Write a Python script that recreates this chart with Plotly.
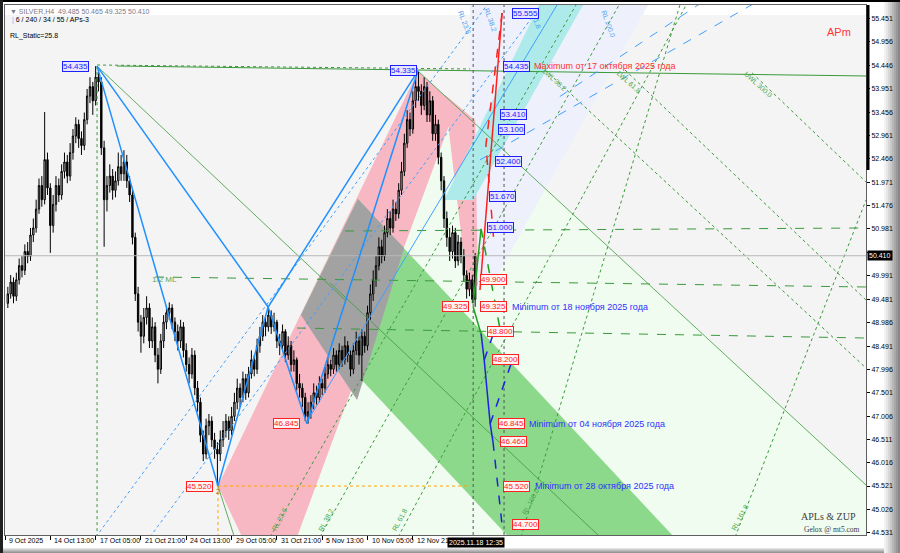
import plotly.graph_objects as go

# ---------------- candle data (bar index, OHLC) ----------------
bars = list(range(1, 167))
opens = [49.40,49.60,49.85,49.55,49.90,50.20,50.10,50.50,50.40,50.85,51.00,51.40,51.90,51.60,52.45,51.85,51.05,51.50,51.90,51.70,
         52.20,52.40,52.10,52.60,52.95,53.20,52.90,52.75,53.30,53.80,54.00,53.70,54.20,54.10,52.70,51.60,51.90,52.10,51.80,52.00,
         52.30,52.15,52.40,52.00,51.70,50.80,49.60,49.00,48.70,49.10,49.30,48.60,48.90,48.30,48.00,48.60,49.00,49.20,49.30,49.00,
         48.80,48.60,48.90,48.40,48.10,47.90,48.30,47.60,47.30,46.60,46.20,46.80,46.90,46.50,46.30,46.20,46.50,46.70,46.90,46.70,
         47.00,47.30,47.60,47.40,47.80,47.50,47.90,48.20,48.00,48.50,48.70,49.00,48.90,49.15,48.90,49.00,48.60,48.50,48.80,48.30,
         48.50,48.10,48.20,47.70,47.60,47.40,47.00,47.10,47.30,47.50,47.40,47.70,47.60,47.90,48.10,48.00,48.30,48.10,48.40,48.20,
         48.50,48.30,48.00,48.40,48.60,48.30,48.70,48.50,49.20,49.60,49.90,50.20,50.60,50.40,50.90,51.20,51.00,51.40,51.30,51.80,
         52.20,52.80,53.30,53.10,53.70,54.00,53.90,53.60,54.00,53.40,53.70,53.00,53.20,52.50,52.00,51.20,50.80,50.50,50.90,50.30,
         50.70,50.40,50.00,49.70,49.90,49.485]
closes = [49.60,49.85,49.55,49.90,50.20,50.10,50.50,50.40,50.85,51.00,51.40,51.90,51.60,52.45,51.85,51.05,51.50,51.90,51.70,52.20,
          52.40,52.10,52.60,52.95,53.20,52.90,52.75,53.30,53.80,54.00,53.70,54.20,54.10,52.70,51.60,51.90,52.10,51.80,52.00,52.30,
          52.15,52.40,52.00,51.70,50.80,49.60,49.00,48.70,49.10,49.30,48.60,48.90,48.30,48.00,48.60,49.00,49.20,49.30,49.00,48.80,
          48.60,48.90,48.40,48.10,47.90,48.30,47.60,47.30,46.60,46.20,46.80,46.90,46.50,46.30,46.20,46.50,46.70,46.90,46.70,47.00,
          47.30,47.60,47.40,47.80,47.50,47.90,48.20,48.00,48.50,48.70,49.00,48.90,49.15,48.90,49.00,48.60,48.50,48.80,48.30,48.50,
          48.10,48.20,47.70,47.60,47.40,47.00,47.10,47.30,47.50,47.40,47.70,47.60,47.90,48.10,48.00,48.30,48.10,48.40,48.20,48.50,
          48.30,48.00,48.40,48.60,48.30,48.70,48.50,49.20,49.60,49.90,50.20,50.60,50.40,50.90,51.20,51.00,51.40,51.30,51.80,52.20,
          52.80,53.30,53.10,53.70,54.00,53.90,53.60,54.00,53.40,53.70,53.00,53.20,52.50,52.00,51.20,50.80,50.50,50.90,50.30,50.70,
          50.40,50.00,49.70,49.90,49.485,50.410]
highs = [49.75,50.00,49.95,50.05,50.35,50.40,50.65,50.70,51.00,51.20,51.60,52.05,52.10,53.46,52.60,51.95,51.70,52.10,52.05,52.35,
         52.60,52.55,52.80,53.10,53.35,53.30,53.05,53.45,53.95,54.20,54.10,54.435,54.35,54.20,52.85,52.10,52.35,52.25,52.20,52.60,
         52.55,52.65,52.55,52.10,51.80,50.90,49.75,49.15,49.30,49.55,49.40,49.10,49.00,48.45,48.75,49.15,49.35,49.42,49.38,49.10,
         48.95,49.05,49.00,48.55,48.25,48.45,48.40,47.75,47.40,46.70,46.95,47.05,47.00,46.65,46.45,46.70,46.90,47.05,47.00,47.20,
         47.50,47.80,47.70,47.95,47.90,48.05,48.40,48.30,48.65,48.90,49.15,49.10,49.32,49.25,49.20,49.05,48.75,48.95,48.85,48.70,
         48.60,48.40,48.25,47.90,47.70,47.50,47.30,47.45,47.70,47.65,47.85,47.80,48.05,48.25,48.20,48.45,48.40,48.55,48.50,48.70,
         48.60,48.40,48.55,48.80,48.70,48.85,48.80,49.35,49.80,50.10,50.40,50.80,50.75,51.05,51.40,51.35,51.60,51.55,51.95,52.40,
         53.00,53.50,53.45,53.90,54.20,54.335,54.05,54.20,54.10,53.90,53.80,53.40,53.30,52.60,52.10,51.35,51.00,51.05,51.00,50.85,
         50.80,50.55,50.10,50.05,50.00,50.465]
lows = [49.30,49.50,49.40,49.45,49.80,49.95,50.00,50.25,50.30,50.70,50.90,51.30,51.45,51.50,51.70,50.47,50.90,51.35,51.55,51.60,
        52.05,51.95,52.00,52.45,52.80,52.70,52.55,52.65,53.20,53.65,53.40,53.60,53.90,52.55,50.60,51.35,51.75,51.60,51.65,51.90,
        52.00,52.00,51.85,51.55,50.65,49.45,48.80,48.35,48.55,48.95,48.45,48.45,48.15,47.70,47.90,48.45,48.85,49.05,48.85,48.60,
        48.40,48.45,48.25,47.95,47.70,47.80,47.45,47.10,46.45,46.05,46.10,46.60,46.35,46.10,45.52,46.05,46.35,46.55,46.50,46.60,
        46.90,47.15,47.20,47.30,47.35,47.40,47.80,47.85,47.90,48.35,48.60,48.70,48.80,48.75,48.80,48.45,48.30,48.40,48.15,48.20,
        47.95,47.95,47.55,47.40,47.20,46.90,46.845,46.95,47.15,47.25,47.30,47.45,47.50,47.80,47.85,47.90,47.95,48.00,48.05,48.10,
        48.15,47.85,47.90,48.30,48.10,47.75,48.35,48.40,49.05,49.45,49.75,50.10,50.25,50.30,50.80,50.85,50.90,51.15,51.20,51.70,
        52.10,52.70,52.95,53.00,53.55,53.70,53.40,53.50,53.25,53.25,52.85,52.85,52.35,51.80,51.00,50.60,50.30,50.35,50.15,50.20,
        50.25,49.85,49.50,49.55,49.40,49.325]

# ---------------- axes ----------------
time_tick_bars = [0, 16, 32, 48, 64, 80, 96, 112, 128, 144]
time_tick_text = ["9 Oct 2025", "14 Oct 13:00", "17 Oct 05:00", "21 Oct 21:00", "24 Oct 13:00",
                  "29 Oct 05:00", "31 Oct 21:00", "5 Nov 13:00", "10 Nov 05:00", "12 Nov 21"]
price_ticks = [55.451, 54.956, 54.446, 53.951, 53.456, 52.961, 52.466, 51.971, 51.476, 50.981, 50.486,
               49.991, 49.481, 48.986, 48.491, 47.996, 47.501, 47.006, 46.511, 46.016, 45.521, 45.026, 44.531]
price_tick_text = ["55.451", "54.956", "54.446", "53.951", "53.456", "52.961", "52.466", "51.971", "51.476",
                   "50.981", "", "49.991", "49.481", "48.986", "48.491", "47.996", "47.501", "47.006", "46.511",
                   "46.016", "45.521", "45.026", "44.531"]
x_range = [0, 304]
y_range = [44.481, 55.733]
last_price = 50.410
cursor_time = "2025.11.18 12:35"
cursor_bar = 156.1

# ---------------- overlay objects (bar, price anchors) ----------------
pale_green_bars = [103.1, 159.3, 304.0, 304.0]
pale_green_prices = [44.44, 53.589, 45.542, 44.44]

lavender_bars = [164.2, 164.2, 227.1, 172.3]
lavender_prices = [49.68, 55.733, 55.733, 49.831]

pink_bars = [75.2, 83.7, 103.1, 159.3, 145.8]
pink_prices = [45.52, 44.44, 44.44, 53.589, 54.332]
pink_strip_bars = [155.4, 166.0, 167.0, 163.5, 157.1]
pink_strip_prices = [53.823, 53.292, 49.79, 49.64, 52.867]

green_band_bars = [104.5, 124.6, 236.2, 177.8]
green_band_prices = [49.152, 51.614, 44.44, 44.44]
gray_bars = [104.5, 124.6, 140.9, 124.3]
gray_prices = [49.152, 51.614, 50.574, 47.347]

cyan_bars = [155.0, 165.3, 204.1, 188.6]
cyan_prices = [51.593, 51.593, 55.733, 55.733]

zz_bars = [32.5, 75.2, 92.9, 106.6, 145.8]
zz_prices = [54.435, 45.52, 49.321, 46.845, 54.335]
zz_segments = [(0, 1), (0, 2), (1, 2), (2, 3), (3, 4), (2, 4)]

green_lines = [  # (bars, prices, dash, width)
    ([39.5, 304.0], [54.438, 54.226], "solid", 1),
    ([32.5, 164.2], [54.459, 54.375], "dot", 1),
    ([32.5, 32.5], [54.435, 44.40], "dot", 1),
    ([32.5, 120.1], [54.435, 49.47], "solid", 0.8),
    ([145.8, 304.0], [54.332, 45.542], "solid", 0.8),
    ([114.8, 210.1], [49.831, 44.44], "solid", 0.8),
    ([75.2, 81.2], [45.52, 44.40], "solid", 0.8),
    ([52.97, 304.0], [49.959, 49.746], "dash", 1),
    ([120.1, 304.0], [50.935, 50.999], "dash", 1),
    ([103.1, 304.0], [48.875, 48.663], "dash", 1),
    ([190.7, 304.0], [54.353, 48.026], "dot", 1),
    ([218.9, 304.0], [54.353, 49.470], "dot", 1),
    ([263.8, 304.0], [54.290, 51.976], "dot", 1),
    ([93.6, 201.6], [44.44, 55.733], "dot", 1),
    ([111.2, 216.8], [44.44, 55.733], "dot", 1),
    ([138.8, 240.5], [44.44, 55.733], "dot", 1),
    ([182.2, 238.3], [44.44, 55.733], "dot", 1),
    ([257.8, 304.0], [44.44, 51.593], "dot", 1),
]
green_tags = [("RL 23.6", 97.0, 44.80, -62), ("RL 38.2", 113.5, 44.80, -62), ("RL 61.8", 139.5, 44.80, -62),
              ("RL 100.0", 185.5, 45.20, -62), ("RL 161.8", 259.5, 44.85, -62),
              ("LWL 38.2", 194.0, 54.15, 42), ("LWL 61.8", 220.0, 54.10, 42), ("UWL 300.0", 266.0, 54.05, 42)]
blue_tags = [("RL 23.6", 162.4, 55.372), ("RL 38.2", 171.3, 55.415), ("61.8", 187.9, 55.372), ("RL 100.0", 212.9, 55.33)]
blue_lines = [
    ([106.6, 194.9], [46.879, 55.733], "solid", 1),
    ([32.1, 170.2], [44.44, 55.733], "dot", 1),
    ([51.2, 189.3], [44.44, 55.733], "dot", 1),
    ([167.7, 268.4], [52.445, 55.90], "dash", 1),
    ([195.9, 248.9], [53.790, 55.90], "dash", 1),
]
red_solid_bars = [167.7, 175.5]
red_solid_prices = [49.682, 55.563]
red_dash_bars = [175.5, 169.8, 172.7]
red_dash_prices = [55.563, 52.761, 50.638]
green_short = [([165.3, 168.1], [49.40, 50.98], "solid"), ([168.1, 174.8], [50.98, 48.85], "dash"),
               ([165.3, 168.1], [49.32, 48.75], "solid")]
blue_short = [([168.1, 169.2, 171.3, 172.3], [48.75, 48.196, 46.845, 46.46], "solid"),
              ([172.3, 175.5], [46.46, 44.70], "dash"),
              ([171.3, 179.4], [46.845, 48.24], "dash"),
              ([169.2, 172.7], [48.196, 48.80], "dash")]

blue_boxes = [("54.435", 20.1, 54.435), ("54.335", 135.9, 54.335), ("55.555", 179.0, 55.555),
              ("54.435", 175.8, 54.435), ("53.410", 174.8, 53.410), ("53.100", 174.1, 53.100),
              ("52.400", 173.0, 52.400), ("51.670", 170.9, 51.670), ("51.000", 170.2, 51.000)]
red_boxes = [("49.900", 167.7, 49.900), ("49.325", 167.7, 49.325), ("49.325", 154.3, 49.325),
             ("48.800", 170.2, 48.800), ("48.200", 172.0, 48.200), ("46.845", 174.1, 46.845),
             ("46.845", 94.6, 46.845), ("46.460", 174.8, 46.460), ("45.520", 175.8, 45.520),
             ("45.520", 63.9, 45.520), ("44.700", 179.0, 44.700)]
notes = [("Maximum от 17 октября 2025 года", 186.1, 54.435, "#ff3030"),
         ("Minimum от 18 ноября 2025 года", 178.3, 49.325, "#3030ff"),
         ("Minimum от 04 ноября 2025 года", 184.3, 46.845, "#3030ff"),
         ("Minimum от 28 октября 2025 года", 186.4, 45.520, "#3030ff")]

FONT = "Liberation Sans, Arial, sans-serif"
fig = go.Figure()
shapes = []

def poly(xs, ys, color):
    path = "M " + " L ".join("%s,%s" % (x, y) for x, y in zip(xs, ys)) + " Z"
    shapes.append(dict(type="path", xref="x", yref="y", path=path, fillcolor=color,
                       line=dict(width=0), layer="below"))

def line(xs, ys, color, width=1, dash="solid"):
    fig.add_trace(go.Scatter(x=xs, y=ys, mode="lines", line=dict(color=color, width=width, dash=dash),
                             hoverinfo="skip", showlegend=False))

def px_x(X):
    return (X - 5) / 861.0

def px_y(Y):
    return (535 - Y) / 530.0

shapes.append(dict(type="rect", xref="paper", yref="y", x0=0, x1=1, y0=y_range[0], y1=55.52,
                   fillcolor="#f4f4f4", line=dict(width=0), layer="below"))
poly(pale_green_bars, pale_green_prices, "#effcef")
poly(lavender_bars, lavender_prices, "#eef1fb")
poly(pink_bars, pink_prices, "#f7b7c3")
poly(pink_strip_bars, pink_strip_prices, "#f7b7c3")
poly(green_band_bars, green_band_prices, "#8cd98c")
poly(gray_bars, gray_prices, "#a2a2a2")
poly(cyan_bars, cyan_prices, "#aeeaea")

right_cols = ["#f2f2f2", "#e6e6e6", "#d8d8d8", "#c8c8c8", "#b8b8b8", "#a8a8a8", "#989898", "#888888"]
for k, c in enumerate(right_cols):
    shapes.append(dict(type="rect", xref="paper", yref="paper", x0=px_x(884 + 2 * k), x1=px_x(886 + 2 * k),
                       y0=px_y(553), y1=px_y(0), fillcolor=c, line=dict(width=0), layer="below"))
bot_cols = ["#e4e4e4", "#cfcfcf", "#bcbcbc", "#a8a8a8", "#969696"]
for k, c in enumerate(bot_cols):
    shapes.append(dict(type="rect", xref="paper", yref="paper", x0=px_x(0), x1=px_x(884),
                       y0=px_y(548 + k + 1), y1=px_y(548 + k), fillcolor=c, line=dict(width=0), layer="below"))
shapes.append(dict(type="rect", xref="paper", yref="paper", x0=px_x(0), x1=px_x(900), y0=px_y(2), y1=px_y(0),
                   fillcolor="#000000", line=dict(width=0)))
shapes.append(dict(type="rect", xref="paper", yref="paper", x0=px_x(0), x1=px_x(3), y0=px_y(553), y1=px_y(0),
                   fillcolor="#202020", line=dict(width=0)))
shapes.append(dict(type="rect", xref="paper", yref="paper", x0=px_x(866.5), x1=px_x(869.5), y0=px_y(170), y1=px_y(5),
                   fillcolor="#000000", line=dict(width=0)))

for xs, ys, dash, w in green_lines:
    line(xs, ys, "#3a9a3a", w, dash)
for xs, ys, dash, w in blue_lines:
    line(xs, ys, "#3fa0ff", w, dash)

line([75.2, 164.2], [45.52, 45.52], "#ffa500", 1, "dot")
line([75.2, 75.2], [45.52, 44.40], "#ffa500", 1, "dot")
line(x_range, [last_price, last_price], "#b8b8b8", 1)
line([165.3, 165.3], y_range, "#555555", 1, "dot")
line([176.2, 176.2], y_range, "#555555", 1, "dot")

fig.add_trace(go.Candlestick(x=bars, open=opens, high=highs, low=lows, close=closes,
                             increasing=dict(line=dict(color="#000000", width=1), fillcolor="#cfcfcf"),
                             decreasing=dict(line=dict(color="#000000", width=1), fillcolor="#000000"),
                             whiskerwidth=0, hoverinfo="skip", showlegend=False))

for a, b in zz_segments:
    line([zz_bars[a], zz_bars[b]], [zz_prices[a], zz_prices[b]], "#1e90ff", 1.5)
line(red_solid_bars, red_solid_prices, "#ff2020", 1.5)
line(red_dash_bars, red_dash_prices, "#ff2020", 1.5, "dash")
for xs, ys, dash in green_short:
    line(xs, ys, "#20a020", 1.5, dash)
for xs, ys, dash in blue_short:
    line(xs, ys, "#2020e0", 1.5, dash)

ann = []
for t, bx, p, ang in green_tags:
    ann.append(dict(x=bx, y=p, xref="x", yref="y", text=t, showarrow=False, textangle=ang,
                    font=dict(family=FONT, size=7, color="#4aa84a")))
for t, bx, p in blue_tags:
    ann.append(dict(x=bx, y=p, xref="x", yref="y", text=t, showarrow=False, textangle=70,
                    font=dict(family=FONT, size=7, color="#4a9cf0")))
for t, bx, p in blue_boxes:
    ann.append(dict(x=bx, y=p, xref="x", yref="y", text=t, showarrow=False, xanchor="left", yanchor="middle",
                    font=dict(family=FONT, size=8, color="#2020ff"), bgcolor="#e6e6ff",
                    bordercolor="#2020ff", borderwidth=1, borderpad=0))
for t, bx, p in red_boxes:
    ann.append(dict(x=bx, y=p, xref="x", yref="y", text=t, showarrow=False, xanchor="left", yanchor="middle",
                    font=dict(family=FONT, size=8, color="#ff2020"), bgcolor="#fff4f4",
                    bordercolor="#ff2020", borderwidth=1, borderpad=0))
for t, bx, p, c in notes:
    ann.append(dict(x=bx, y=p, xref="x", yref="y", text=t, showarrow=False, xanchor="left", yanchor="middle",
                    font=dict(family=FONT, size=9, color=c)))
ann.append(dict(x=51.2, y=49.895, xref="x", yref="y", text="1/2 ML", showarrow=False, xanchor="left",
                yanchor="middle", font=dict(family=FONT, size=8, color="#5aa85a")))
ann.append(dict(x=75.2, y=45.40, xref="x", yref="y", text="2", showarrow=False, yanchor="middle",
                font=dict(family=FONT, size=7, color="#a06000")))

for b, t in zip(time_tick_bars, time_tick_text):
    ann.append(dict(x=b + 0.7, y=-0.0113, xref="x", yref="paper", text=t, showarrow=False, xanchor="left",
                    yanchor="middle", font=dict(family=FONT, size=7, color="#000000")))
ann.append(dict(x=cursor_bar, y=-0.0135, xref="x", yref="paper", text=cursor_time, showarrow=False,
                xanchor="left", yanchor="middle", bgcolor="#000000", borderpad=1,
                font=dict(family=FONT, size=7, color="#ffffff")))
ann.append(dict(x=1.0012, y=last_price, xref="paper", yref="y", text="50.410", showarrow=False,
                xanchor="left", yanchor="middle", bgcolor="#000000", borderpad=1,
                font=dict(family=FONT, size=7, color="#ffffff")))
ann.append(dict(x=0.0035, y=0.987, xref="paper", yref="paper", showarrow=False, xanchor="left", yanchor="middle",
                text="▼ SILVER,H4  49.485 50.465 49.325 50.410", font=dict(family=FONT, size=7, color="#7a7a8a")))
ann.append(dict(x=0.006, y=0.9717, xref="paper", yref="paper", showarrow=False, xanchor="left", yanchor="middle",
                text="<span style='color:#5ab0ff'>|</span> 6 / 240 / 34 / 55 / APs-3",
                font=dict(family=FONT, size=7, color="#000000")))
ann.append(dict(x=0.0035, y=0.9415, xref="paper", yref="paper", showarrow=False, xanchor="left", yanchor="middle",
                text="RL_Static=25.8", font=dict(family=FONT, size=7, color="#000000")))
ann.append(dict(x=0.952, y=0.949, xref="paper", yref="paper", showarrow=False, xanchor="left", yanchor="middle",
                text="APm", font=dict(family=FONT, size=11, color="#ff3333")))
ann.append(dict(x=0.9907, y=0.034, xref="paper", yref="paper", showarrow=False, xanchor="right", yanchor="middle",
                text="APLs & ZUP", font=dict(family="Liberation Serif, serif", size=10, color="#404040")))
ann.append(dict(x=0.995, y=0.0113, xref="paper", yref="paper", showarrow=False, xanchor="right", yanchor="middle",
                text="Gelox @ mt5.com", font=dict(family="Liberation Serif, serif", size=7.5, color="#404040")))

fig.update_layout(
    width=900, height=553, margin=dict(l=5, r=34, t=5, b=18),
    paper_bgcolor="#ffffff", plot_bgcolor="#ffffff",
    showlegend=False, annotations=ann, shapes=shapes,
    xaxis=dict(range=x_range, showgrid=False, zeroline=False, rangeslider=dict(visible=False),
               tickvals=time_tick_bars, ticktext=[""] * len(time_tick_bars), ticks="outside", ticklen=4,
               tickcolor="#000000", showline=True, linecolor="#606060", linewidth=1, mirror=True, fixedrange=True),
    yaxis=dict(range=y_range, side="right", showgrid=False, zeroline=False, tickvals=price_ticks,
               ticktext=price_tick_text, ticks="outside", ticklen=3, tickcolor="#000000",
               tickfont=dict(family=FONT, size=7, color="#000000"), showline=True, linecolor="#606060",
               linewidth=1, mirror=True, fixedrange=True),
)
fig.write_html("out.html", config={"displayModeBar": False},
               post_script="document.body.style.margin='0px';")
